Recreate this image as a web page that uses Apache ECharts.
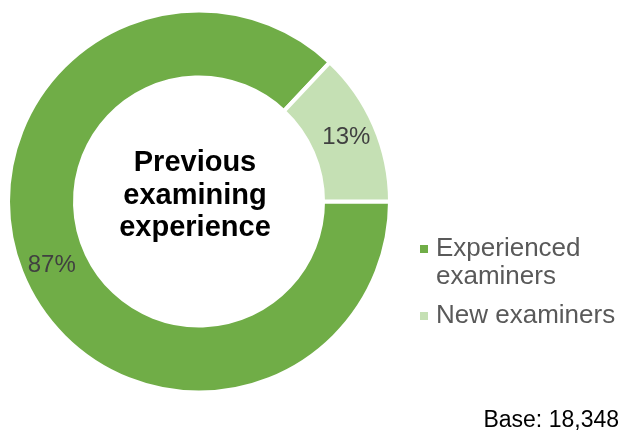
<!DOCTYPE html>
<html>
<head>
<meta charset="utf-8">
<script src="https://cdn.jsdelivr.net/npm/echarts@6/dist/echarts.min.js"></script>
<style>
  html, body { margin: 0; padding: 0; background: #ffffff; }
  #chart { width: 622px; height: 430px; }
</style>
</head>
<body>
<div id="chart"></div>
<script>
// Share of examiners by previous examining experience (percent)
const categories = ['Experienced\nexaminers', 'New examiners'];
const shares = [87, 13];
const sliceColors = ['#70AD47', '#C5E0B4'];
const centerTitle = 'Previous\nexamining\nexperience';
const baseNote = 'Base: 18,348';

const FONT = '"Liberation Sans", Arial, Helvetica, sans-serif';

const chart = echarts.init(document.getElementById('chart'), null, { renderer: 'canvas' });

chart.setOption({
  animation: false,
  backgroundColor: '#ffffff',
  color: sliceColors,
  legend: {
    orient: 'vertical',
    left: 420,
    top: 207,
    padding: 0,
    itemGap: 11,
    itemWidth: 8,
    itemHeight: 8,
    icon: 'rect',
    selectedMode: false,
    itemStyle: { borderWidth: 0 },
    // a two-line name gets a blank leading line so the marker sits beside its first line
    formatter: name => (name.indexOf('\n') >= 0 ? '\n' + name : name),
    textStyle: {
      fontFamily: FONT,
      fontSize: 26,
      lineHeight: 28,
      color: '#595959',
      padding: [0, 0, 0, 3]
    }
  },
  graphic: [
    {
      type: 'text',
      x: 195,
      y: 195.5,
      style: {
        text: centerTitle,
        align: 'center',
        verticalAlign: 'middle',
        fontFamily: FONT,
        fontWeight: 'bold',
        fontSize: 29,
        lineHeight: 32.5,
        fill: '#000000'
      }
    },
    {
      type: 'text',
      x: 619,
      y: 420.5,
      style: {
        text: baseNote,
        align: 'right',
        verticalAlign: 'middle',
        fontFamily: FONT,
        fontSize: 23,
        fill: '#000000'
      }
    }
  ],
  series: [
    {
      type: 'pie',
      center: [199, 201.5],
      radius: [124, 191],
      startAngle: 0,
      clockwise: true,
      avoidLabelOverlap: false,
      emphasis: { disabled: true },
      itemStyle: {
        borderColor: '#ffffff',
        borderWidth: 4
      },
      label: {
        show: true,
        position: 'inside',
        formatter: '{c}%',
        fontFamily: FONT,
        fontSize: 24,
        color: '#404040'
      },
      labelLine: { show: false },
      data: categories.map((name, i) => ({ name: name, value: shares[i] }))
    }
  ]
});
</script>
</body>
</html>
